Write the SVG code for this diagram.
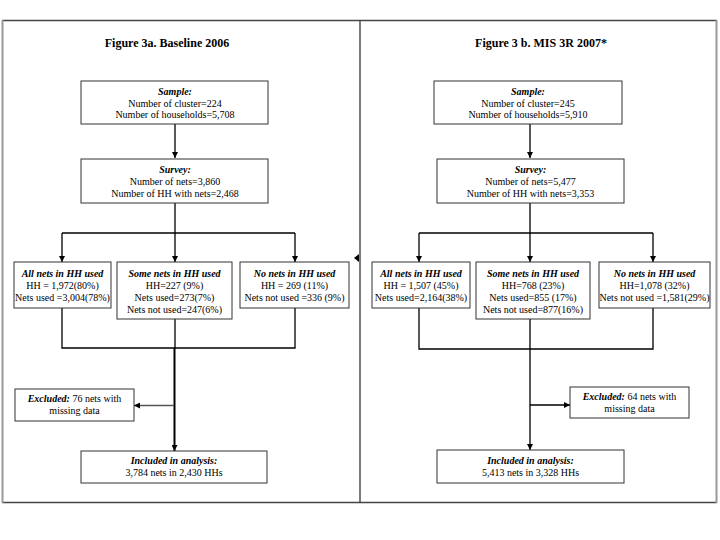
<svg xmlns="http://www.w3.org/2000/svg" width="720" height="540" viewBox="0 0 720 540">
<style>
  .box{fill:#fff;stroke:#333;stroke-width:1}
  .t{font-family:"Liberation Serif","Times New Roman",serif;font-size:10px;fill:#000;text-anchor:middle}
  .h{font-weight:bold;font-style:italic}
  .title{font-family:"Liberation Serif","Times New Roman",serif;font-size:12px;font-weight:bold;fill:#000;text-anchor:middle}
  .c{fill:none;stroke:#000;stroke-width:1.3}
  .frame{fill:none;stroke:#444;stroke-width:1.4}
</style>
<defs>
  <marker id="ah" viewBox="0 0 10 10" refX="10" refY="5" markerWidth="6" markerHeight="6" markerUnits="userSpaceOnUse" orient="auto">
    <path d="M0,0 L10,5 L0,10 z" fill="#000"/>
  </marker>
</defs>
<rect width="720" height="540" fill="#fff"/>
<g id="frame">
  <line class="frame" x1="2" y1="20.5" x2="717" y2="20.5"/>
  <line class="frame" x1="2" y1="502.5" x2="717" y2="502.5"/>
  <line x1="2.5" y1="20" x2="2.5" y2="503" stroke="#999" stroke-width="2"/>
  <line x1="716.5" y1="20" x2="716.5" y2="503" stroke="#999" stroke-width="2"/>
  <line class="frame" x1="360" y1="20" x2="360" y2="503"/>
  <path d="M359,254 L354,258 L359,262 z" fill="#000"/>
</g>
<g id="titles">
  <text class="title" x="167" y="47">Figure 3a. Baseline 2006</text>
  <text class="title" x="541" y="47">Figure 3 b. MIS 3R 2007*</text>
</g>
<g id="connectors">
  <!-- left -->
  <line class="c" x1="175" y1="124" x2="175" y2="158" marker-end="url(#ah)"/>
  <line class="c" x1="175" y1="203" x2="175" y2="233"/>
  <line class="c" x1="62" y1="233" x2="295" y2="233"/>
  <line class="c" x1="62" y1="233" x2="62" y2="262" marker-end="url(#ah)"/>
  <line class="c" x1="175" y1="233" x2="175" y2="262" marker-end="url(#ah)"/>
  <line class="c" x1="295" y1="233" x2="295" y2="262" marker-end="url(#ah)"/>
  <path class="c" d="M62,308 V348 H295 V308"/>
  <line class="c" x1="175" y1="319" x2="175" y2="348"/>
  <line x1="174.5" y1="348" x2="174.5" y2="451" stroke="#000" stroke-width="2" marker-end="url(#ah)"/>
  <line x1="174" y1="405.5" x2="134" y2="405.5" stroke="#555" stroke-width="1.3" marker-end="url(#ah)"/>
  <!-- right -->
  <line class="c" x1="530" y1="124" x2="530" y2="158" marker-end="url(#ah)"/>
  <line class="c" x1="530" y1="203" x2="530" y2="233"/>
  <line class="c" x1="419" y1="233" x2="653" y2="233"/>
  <line class="c" x1="419" y1="233" x2="419" y2="262" marker-end="url(#ah)"/>
  <line class="c" x1="530" y1="233" x2="530" y2="262" marker-end="url(#ah)"/>
  <line class="c" x1="653" y1="233" x2="653" y2="262" marker-end="url(#ah)"/>
  <path class="c" d="M419,308 V349 H653 V308"/>
  <line class="c" x1="530" y1="319" x2="530" y2="450" marker-end="url(#ah)"/>
  <line class="c" x1="530" y1="405" x2="570" y2="405" marker-end="url(#ah)"/>
</g>
<g id="sample-a">
  <rect class="box" x="81" y="81" width="187" height="43"/>
  <text class="t h" x="175" y="95">Sample:</text>
  <text class="t" x="175" y="106.5">Number of cluster=224</text>
  <text class="t" x="175" y="118">Number of households=5,708</text>
</g>
<g id="survey-a">
  <rect class="box" x="81" y="159" width="187" height="44"/>
  <text class="t h" x="175" y="172.5">Survey:</text>
  <text class="t" x="175" y="184.5">Number of nets=3,860</text>
  <text class="t" x="175" y="196.5">Number of HH with nets=2,468</text>
</g>
<g id="all-a">
  <rect class="box" x="14" y="262" width="97" height="46"/>
  <text class="t h" x="62.5" y="276.5">All nets in HH used</text>
  <text class="t" x="62.5" y="288.5">HH = 1,972(80%)</text>
  <text class="t" x="62.5" y="300.5">Nets used =3,004(78%)</text>
</g>
<g id="some-a">
  <rect class="box" x="117" y="262" width="115" height="57"/>
  <text class="t h" x="174.5" y="276.5">Some nets in HH used</text>
  <text class="t" x="174.5" y="288.5">HH=227 (9%)</text>
  <text class="t" x="174.5" y="300.5">Nets used=273(7%)</text>
  <text class="t" x="174.5" y="312.5">Nets not used=247(6%)</text>
</g>
<g id="no-a">
  <rect class="box" x="240" y="262" width="109" height="46"/>
  <text class="t h" x="294.5" y="276.5">No nets in HH used</text>
  <text class="t" x="294.5" y="288.5">HH = 269 (11%)</text>
  <text class="t" x="294.5" y="300.5">Nets not used =336 (9%)</text>
</g>
<g id="excluded-a">
  <rect class="box" x="15" y="389" width="119" height="32"/>
  <text class="t" x="74.5" y="402"><tspan class="h">Excluded:</tspan> 76 nets with</text>
  <text class="t" x="74.5" y="414">missing data</text>
</g>
<g id="included-a">
  <rect class="box" x="81" y="451" width="186" height="32"/>
  <text class="t h" x="174" y="464">Included in analysis:</text>
  <text class="t" x="174" y="476">3,784 nets in 2,430 HHs</text>
</g>
<g id="sample-b">
  <rect class="box" x="434" y="81" width="188" height="43"/>
  <text class="t h" x="528" y="95">Sample:</text>
  <text class="t" x="528" y="106.5">Number of cluster=245</text>
  <text class="t" x="528" y="118">Number of households=5,910</text>
</g>
<g id="survey-b">
  <rect class="box" x="437" y="159" width="187" height="44"/>
  <text class="t h" x="530.5" y="172.5">Survey:</text>
  <text class="t" x="530.5" y="184.5">Number of nets=5,477</text>
  <text class="t" x="530.5" y="196.5">Number of HH with nets=3,353</text>
</g>
<g id="all-b">
  <rect class="box" x="372" y="262" width="98" height="46"/>
  <text class="t h" x="421" y="276.5">All nets in HH used</text>
  <text class="t" x="421" y="288.5">HH = 1,507 (45%)</text>
  <text class="t" x="421" y="300.5">Nets used=2,164(38%)</text>
</g>
<g id="some-b">
  <rect class="box" x="476" y="262" width="114" height="57"/>
  <text class="t h" x="533" y="276.5">Some nets in HH used</text>
  <text class="t" x="533" y="288.5">HH=768 (23%)</text>
  <text class="t" x="533" y="300.5">Nets used=855 (17%)</text>
  <text class="t" x="533" y="312.5">Nets not used=877(16%)</text>
</g>
<g id="no-b">
  <rect class="box" x="599" y="262" width="111" height="46"/>
  <text class="t h" x="654.5" y="276.5">No nets in HH used</text>
  <text class="t" x="654.5" y="288.5">HH=1,078 (32%)</text>
  <text class="t" x="654.5" y="300.5">Nets not used =1,581(29%)</text>
</g>
<g id="excluded-b">
  <rect class="box" x="570" y="387" width="119" height="31"/>
  <text class="t" x="629.5" y="399.5"><tspan class="h">Excluded:</tspan> 64 nets with</text>
  <text class="t" x="629.5" y="411.5">missing data</text>
</g>
<g id="included-b">
  <rect class="box" x="437" y="450" width="187" height="33"/>
  <text class="t h" x="530.5" y="463.5">Included in analysis:</text>
  <text class="t" x="530.5" y="475.5">5,413 nets in 3,328 HHs</text>
</g>
</svg>
